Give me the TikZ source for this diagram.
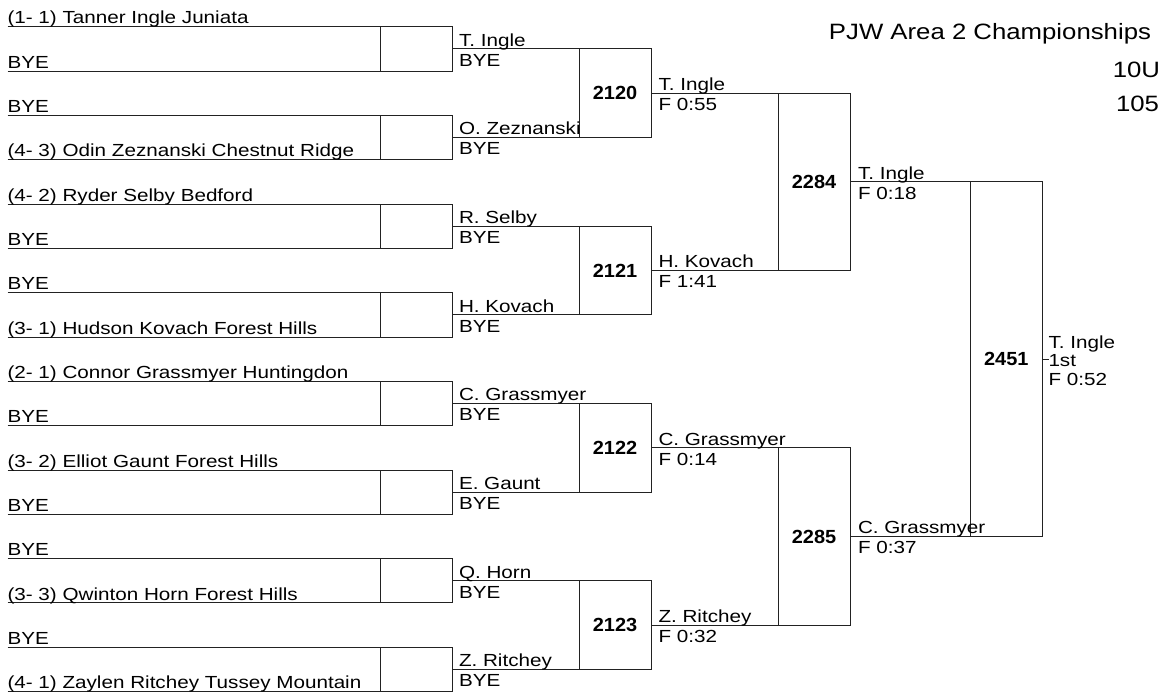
\documentclass[tikz,border=0pt]{standalone}
\usepackage{fontspec}
\setmainfont{Liberation Sans}
\newfontfamily\brkfont[FakeStretch=1.18]{Liberation Sans}
\newfontfamily\ttlfont[FakeStretch=1.16]{Liberation Sans}
\newfontfamily\numfont[FakeStretch=1.05]{Liberation Sans}
\definecolor{ink}{HTML}{222222}
\begin{document}
\begin{tikzpicture}[x=1pt,y=-1pt,line width=1pt,color=ink,
  lbl/.style={inner sep=0pt,outer sep=0pt,anchor=base west,text=black,font=\brkfont\fontsize{17.5}{20}\selectfont},
  ttl/.style={inner sep=0pt,outer sep=0pt,anchor=base east,text=black,font=\ttlfont\fontsize{22.2}{26}\selectfont},
  mbox/.style={draw=ink,inner sep=0pt,outer sep=0pt,minimum width=72pt,text=black,font=\numfont\bfseries\fontsize{19}{22}\selectfont}]
\useasboundingbox (0,0) rectangle (1164,698);
\def\sp{44.33}
\coordinate (x0) at (7.5,0);

% match boxes
\foreach \k in {0,...,7}{
  \node[mbox,minimum height=\sp pt] (r1b\k) at (416,{26.7+\sp*(2*\k+0.5)}) {};
}
\foreach \m/\n in {0/2120,1/2121,2/2122,3/2123}{
  \node[mbox,minimum height=2*\sp pt] (r2b\m) at (615,{26.7+\sp*(4*\m+1.5)}) {\n};
}
\foreach \m/\n in {0/2284,1/2285}{
  \node[mbox,minimum height=4*\sp pt] (r3b\m) at (814,{26.7+\sp*(8*\m+3.5)}) {\n};
}
\node[mbox,minimum height=8*\sp pt,minimum width=72.5pt] (r4b) at (1006.25,{26.7+\sp*7.5}) {2451};

% round 1 entries
\foreach \t [count=\i from 0] in {{(1- 1) Tanner Ingle Juniata},BYE,BYE,{(4- 3) Odin Zeznanski Chestnut Ridge},{(4- 2) Ryder Selby Bedford},BYE,BYE,{(3- 1) Hudson Kovach Forest Hills},{(2- 1) Connor Grassmyer Huntingdon},BYE,{(3- 2) Elliot Gaunt Forest Hills},BYE,BYE,{(3- 3) Qwinton Horn Forest Hills},BYE,{(4- 1) Zaylen Ritchey Tussey Mountain}}{
  \pgfmathtruncatemacro\k{\i/2}
  \ifodd\i\def\anc{south east}\else\def\anc{north east}\fi
  \coordinate (s\i) at (x0 |- r1b\k.\anc);
  \draw (s\i) -- (r1b\k.\anc);
  \node[lbl] (t\i) at ([shift={(0,-2.7)}]s\i) {\t};
}

% round 2
\foreach \a/\b [count=\k from 0] in {T. Ingle/BYE,O. Zeznanski/BYE,R. Selby/BYE,H. Kovach/BYE,C. Grassmyer/BYE,E. Gaunt/BYE,Q. Horn/BYE,Z. Ritchey/BYE}{
  \pgfmathtruncatemacro\m{\k/2}
  \draw (r1b\k.east) -- (r1b\k.east -| r2b\m.east);
  \node[lbl] (u\k) at ([shift={(7,-2.7)}]r1b\k.east) {\a};
  \node[lbl] (v\k) at ([shift={(7,17.3)}]r1b\k.east) {\b};
}

% round 3
\foreach \a/\b [count=\m from 0] in {T. Ingle/F 0:55,H. Kovach/F 1:41,C. Grassmyer/F 0:14,Z. Ritchey/F 0:32}{
  \pgfmathtruncatemacro\n{\m/2}
  \draw (r2b\m.east) -- (r2b\m.east -| r3b\n.east);
  \node[lbl] (p\m) at ([shift={(7.5,-2.7)}]r2b\m.east) {\a};
  \node[lbl] (q\m) at ([shift={(7.5,17.3)}]r2b\m.east) {\b};
}

% round 4
\foreach \a/\b [count=\n from 0] in {T. Ingle/F 0:18,C. Grassmyer/F 0:37}{
  \draw (r3b\n.east) -- (r3b\n.east -| r4b.east);
  \node[lbl] (g\n) at ([shift={(8,-2.7)}]r3b\n.east) {\a};
  \node[lbl] (h\n) at ([shift={(8,17.3)}]r3b\n.east) {\b};
}

% final
\coordinate (fin) at ([xshift=6.5pt]r4b.east);
\draw (r4b.east) -- (fin);
\node[lbl] (w0) at ([shift={(-0.5,-10.9)}]fin) {T. Ingle};
\node[lbl] (w1) at ([shift={(-0.5,7.5)}]fin) {1st};
\node[lbl] (w2) at ([shift={(-0.5,26.5)}]fin) {F 0:52};

% title
\node[ttl] (title) at (1151,39.3) {PJW Area 2 Championships};
\node[ttl] (age) at (1160,77.3) {10U};
\node[ttl] (wt) at (1159,111.7) {105};
\end{tikzpicture}
\end{document}
